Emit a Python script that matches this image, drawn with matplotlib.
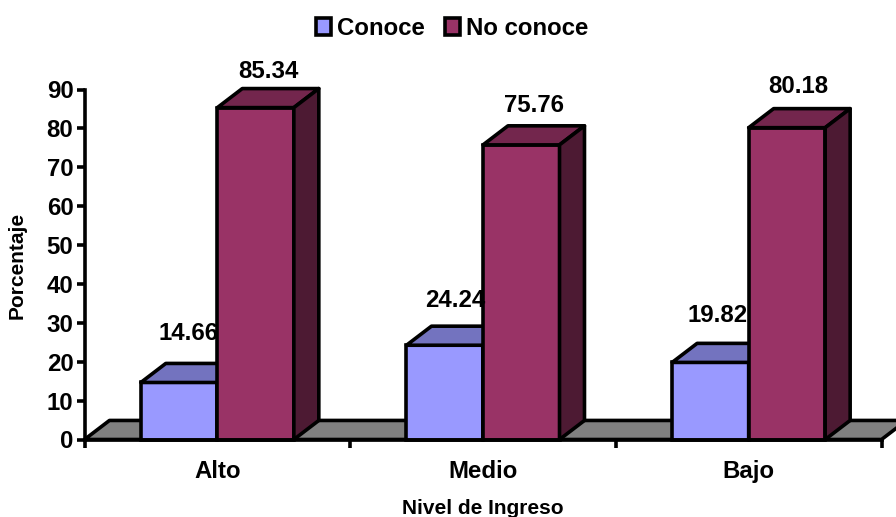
import matplotlib
matplotlib.use("Agg")
import matplotlib.pyplot as plt
import numpy as np
from matplotlib.patches import Polygon, Rectangle

categories = ["Alto", "Medio", "Bajo"]
conoce = [14.66, 24.24, 19.82]
no_conoce = [85.34, 75.76, 80.18]
y_ticks = list(range(0, 100, 10))

# label offsets from the middle of each bar's top edge, in points
conoce_offsets = [(6.5, 35), (7.5, 32), (5, 34)]
no_conoce_offsets = [(9, 26), (9, 28), (8.5, 30)]

W, H = 896, 517
BAR_W = 0.288
DX, DY = 0.094, 4.9  # oblique depth of the fake 3d, in data units
LW = 2.6
FS = 17.3

plt.rcParams["font.family"] = ["Liberation Sans", "DejaVu Sans"]
plt.rcParams["font.weight"] = "bold"

fig = plt.figure(figsize=(W / 100, H / 100), dpi=100)
ax = fig.add_axes([84.5 / W, 1 - 439.5 / H, 797 / W, 350 / H])
ax.patch.set_alpha(0)
ax.set_xlim(0, 3)
ax.set_ylim(0, 90)


def poly(points, color, z):
    ax.add_patch(Polygon(points, closed=True, facecolor=color, edgecolor="black",
                         lw=LW, zorder=z, clip_on=False, joinstyle="round"))


def bars3d(lefts, values, front, top, side, z):
    ax.bar(lefts, values, BAR_W, align="edge", color=front, edgecolor="black",
           lw=LW, zorder=z, clip_on=False)
    for x, v in zip(lefts, values):
        r = x + BAR_W
        poly([(x, v), (r, v), (r + DX, v + DY), (x + DX, v + DY)], top, z)
        poly([(r, 0), (r + DX, DY), (r + DX, v + DY), (r, v)], side, z)


def value_labels(xs, values, offsets):
    for x, v, off in zip(xs, values, offsets):
        ax.annotate(f"{v:.2f}", (x, v), xytext=off, textcoords="offset points",
                    ha="center", va="center", fontsize=FS, zorder=10)


# floor
poly([(0, 0), (3, 0), (3 + DX, DY), (DX, DY)], "#808080", 1)

centers = np.arange(len(categories)) + 0.5
bars3d(centers - BAR_W, conoce, "#9999FF", "#7373BF", "#4D4D80", 3)
bars3d(centers, no_conoce, "#993366", "#73264D", "#4D1A33", 4)

value_labels(centers - BAR_W / 2, conoce, conoce_offsets)
value_labels(centers + BAR_W / 2, no_conoce, no_conoce_offsets)

for s in ("top", "right"):
    ax.spines[s].set_visible(False)
for s in ("left", "bottom"):
    ax.spines[s].set_linewidth(LW)
    ax.spines[s].set_zorder(6)

ax.set_yticks(y_ticks)
ax.tick_params(axis="y", length=6, width=LW, pad=2, labelsize=FS)
ax.set_xticks(range(len(categories) + 1))
ax.set_xticklabels([])
ax.set_xticks(centers, categories, minor=True)
ax.tick_params(axis="x", which="major", length=6, width=LW)
ax.tick_params(axis="x", which="minor", length=0, pad=15, labelsize=FS)

fig.text(483 / W, 1 - 508 / H, "Nivel de Ingreso", ha="center", va="center", fontsize=15)
fig.text(17 / W, 1 - 265 / H, "Porcentaje", ha="center", va="center", rotation=90, fontsize=15)

handles = [Rectangle((0, 0), 1, 1, facecolor="#9999FF", edgecolor="black", lw=LW),
           Rectangle((0, 0), 1, 1, facecolor="#993366", edgecolor="black", lw=LW)]
fig.legend(handles, ["Conoce", "No conoce"], loc="center", bbox_to_anchor=(452.5 / W, 1 - 28.5 / H),
           ncols=2, frameon=False, fontsize=FS, handlelength=0.62, handleheight=0.7,
           handletextpad=0.25, columnspacing=0.85, borderpad=0, borderaxespad=0)

fig.savefig("out.png", dpi=100)
